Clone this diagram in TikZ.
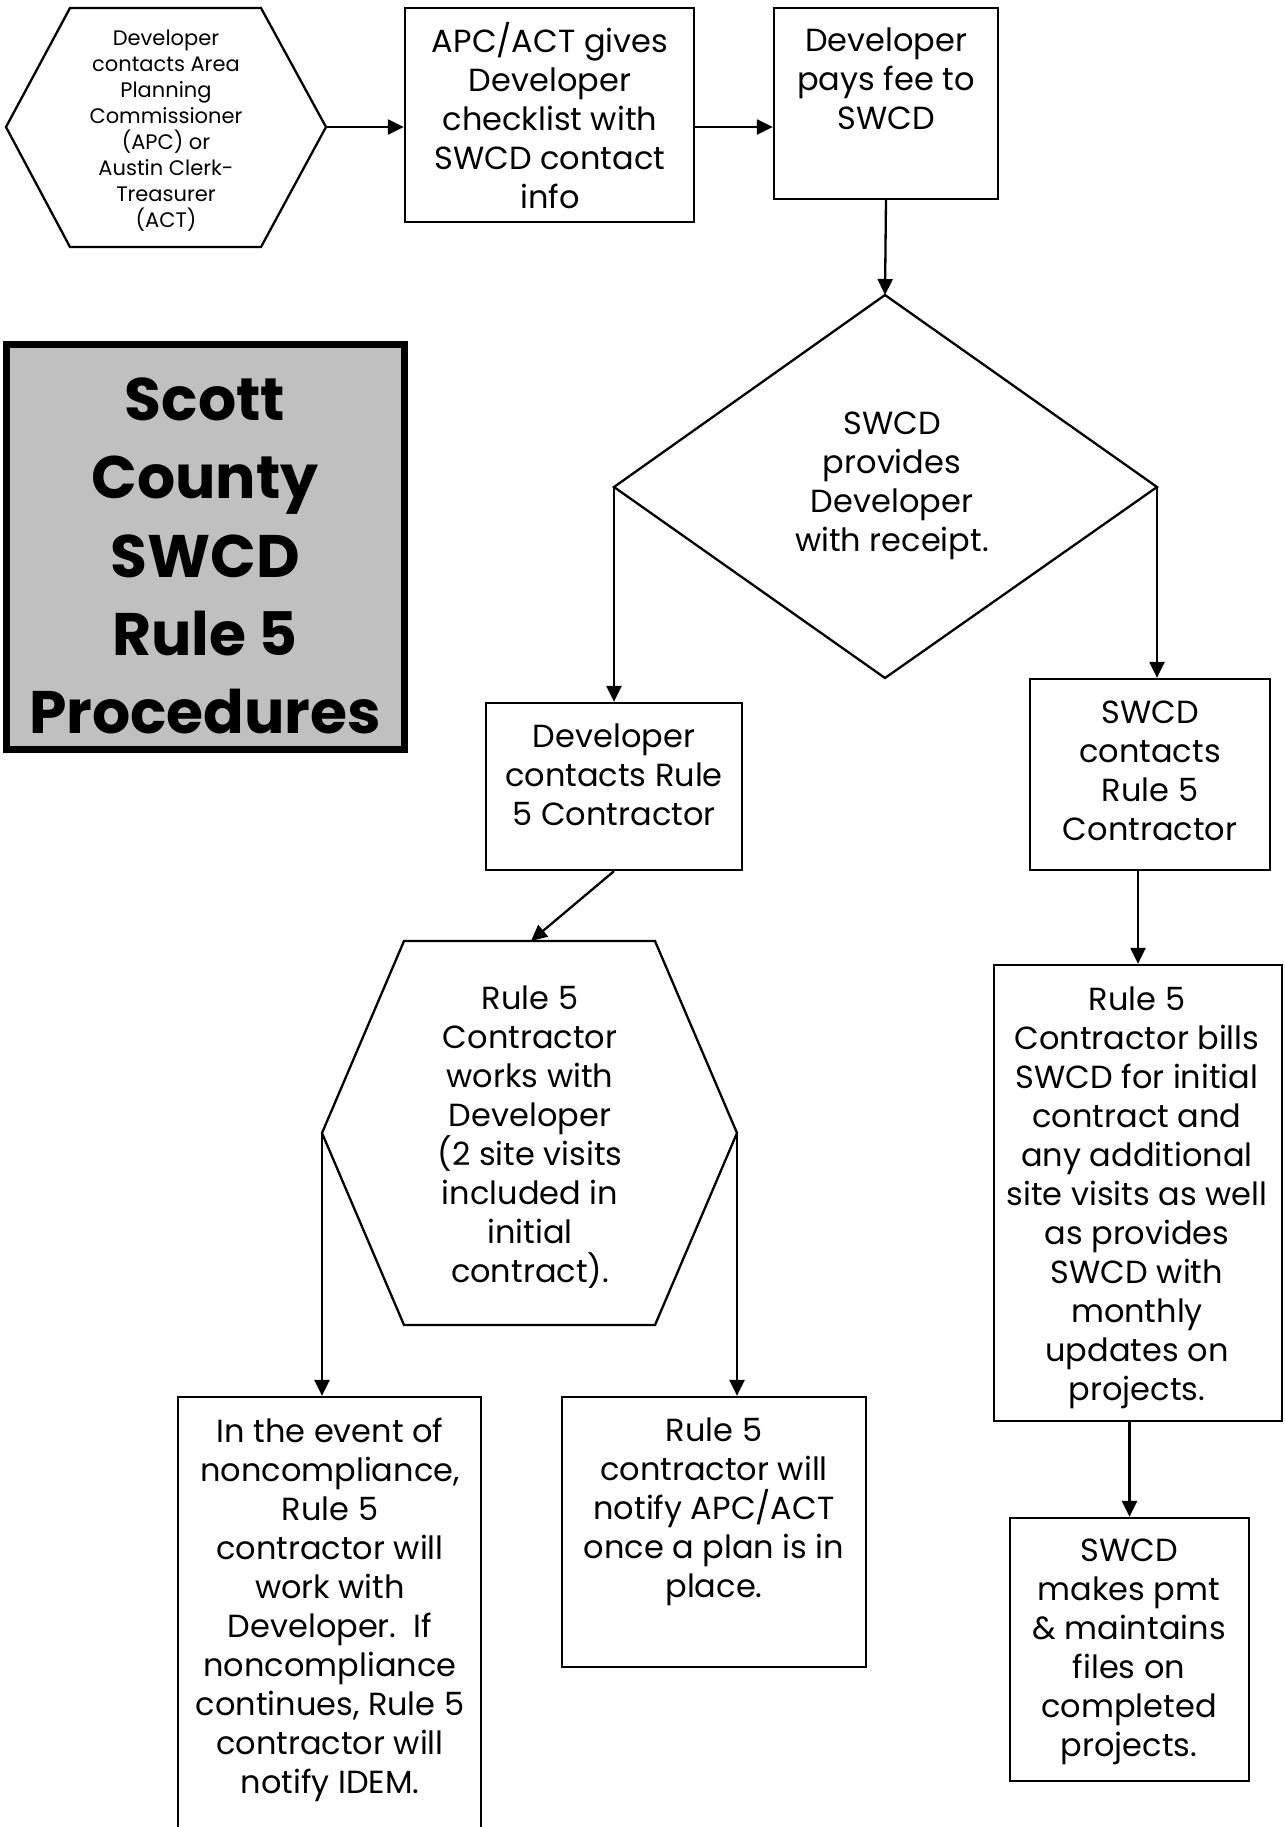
\documentclass[tikz,border=0pt]{standalone}
\usepackage{fontspec}
\setmainfont{Poppins}
\usetikzlibrary{arrows.meta}
\begin{document}
\begin{tikzpicture}[x=0.5pt,y=-0.5pt,
  line width=1.15pt,
  box/.style={draw,rectangle,inner sep=0pt},
  txt/.style={align=center,inner sep=0pt,anchor=center,font=\fontsize{16}{19.5}\selectfont},
  smalltxt/.style={align=center,inner sep=0pt,anchor=center,font=\fontsize{10.5}{13}\selectfont},
  titletxt/.style={align=center,inner sep=0pt,anchor=center,font=\fontsize{30}{39.2}\selectfont\bfseries},
  arr/.style={-{Triangle[length=8pt,width=7.5pt]}}]
\useasboundingbox (0,0) rectangle (1285,1827);
\clip (0,0) rectangle (1285,1827);

% hexagon 1
\coordinate (h1tl) at (70,8);
\coordinate (h1tr) at (261,8);
\coordinate (h1r) at (326,127);
\coordinate (h1br) at (261,247);
\coordinate (h1bl) at (70,247);
\coordinate (h1l) at (6,127);
\draw (h1tl) -- (h1tr) -- (h1r) -- (h1br) -- (h1bl) -- (h1l) -- cycle;
\node[smalltxt] (t1) at (166,131) {Developer\\contacts Area\\Planning\\Commissioner\\(APC) or\\Austin Clerk-\\Treasurer\\(ACT)};

% boxes
\node[box,minimum width=144.5pt,minimum height=107pt] (b2) at (549.5,115) {};
\node[txt] (t2) at (550,115.5) {APC/ACT gives\\Developer\\checklist with\\SWCD contact\\info};
\node[box,minimum width=112pt,minimum height=95.5pt] (b3) at (886,103.5) {};
\node[txt] (t3) at (886,79) {Developer\\pays fee to\\SWCD};

% title
\node[draw,fill={rgb,255:red,192;green,192;blue,192},line width=3.5pt,minimum width=199pt,minimum height=202.5pt,inner sep=0pt] (title) at (205.5,547) {};
\node[titletxt] (tt) at (205,556) {Scott\\County\\SWCD\\Rule 5\\Procedures};

% diamond
\coordinate (dt) at (885,295);
\coordinate (dl) at (614,487);
\coordinate (dr) at (1157,487);
\coordinate (db) at (885,678);
\draw (dt) -- (dr) -- (db) -- (dl) -- cycle;
\node[txt] (td) at (892,485.5) {SWCD\\provides\\Developer\\with receipt.};

\node[box,minimum width=128pt,minimum height=83.5pt] (b4) at (614,786.5) {};
\node[txt] (t4) at (614,775) {Developer\\contacts Rule\\5 Contractor};
\node[box,minimum width=120pt,minimum height=95.5pt] (b5) at (1150,774.5) {};
\node[txt] (t5) at (1150,771) {SWCD\\contacts\\Rule 5\\Contractor};

% hexagon 2
\coordinate (h2tl) at (404,941);
\coordinate (h2tr) at (655,941);
\coordinate (h2r) at (737,1133);
\coordinate (h2br) at (655,1325);
\coordinate (h2bl) at (404,1325);
\coordinate (h2l) at (322,1133);
\coordinate (h2t) at (531,941);
\draw (h2tl) -- (h2tr) -- (h2r) -- (h2br) -- (h2bl) -- (h2l) -- cycle;
\node[txt] (th2) at (530,1137.5) {Rule 5\\Contractor\\works with\\Developer\\(2 site visits\\included in\\initial\\contract).};

\node[box,minimum width=151.5pt,minimum height=226.5pt] (b6) at (329.5,1623.5) {};
\node[txt] (t6) at (330,1610) {In the event of\\noncompliance,\\Rule 5\\contractor will\\work with\\Developer.\ \ If\\noncompliance\\continues, Rule 5\\contractor will\\notify IDEM.};
\node[box,minimum width=152pt,minimum height=135pt] (b7) at (714,1532) {};
\node[txt] (t7) at (714,1512) {Rule 5\\contractor will\\notify APC/ACT\\once a plan is in\\place.};
\node[box,minimum width=144pt,minimum height=228pt] (b8) at (1138,1193) {};
\node[txt] (t8) at (1137,1198) {Rule 5\\Contractor bills\\SWCD for initial\\contract and\\any additional\\site visits as well\\as provides\\SWCD with\\monthly\\updates on\\projects.};
\node[box,minimum width=119.5pt,minimum height=131.5pt] (b9) at (1129.5,1649.5) {};
\node[txt] (t9) at (1129,1651.5) {SWCD\\makes pmt\\\& maintains\\files on\\completed\\projects.};

% connectors
\draw[arr] (h1r) -- (h1r -| b2.west);
\draw[arr] (b2.east |- h1r) -- (b3.west |- h1r);
\draw[arr] (b3.south) -- (dt);
\draw[arr] (dl) -- (dl |- b4.north);
\draw[arr] (dr) -- (dr |- b5.north);
\draw[arr] (b4.south) -- (h2t);
\draw[arr] (h2l) -- (h2l |- b6.north);
\draw[arr] (h2r) -- (h2r |- b7.north);
\draw[arr] (b8.north |- b5.south) -- (b8.north);
\draw[arr] (b9.north |- b8.south) -- (b9.north);
\end{tikzpicture}
\end{document}
